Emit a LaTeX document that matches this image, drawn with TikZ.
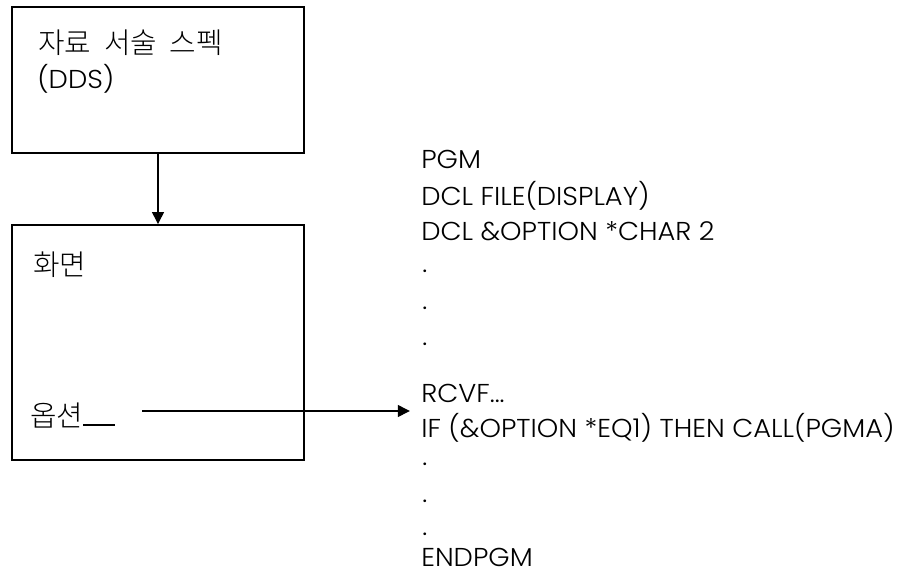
\documentclass[tikz,border=0pt]{standalone}
\usepackage{fontspec}
\setmainfont{Poppins}[UprightFont=* Light, FakeStretch=1.055]
\newfontfamily\kor{Noto Sans CJK KR}[UprightFont=* Light]
\usetikzlibrary{arrows.meta}

\begin{document}
\begin{tikzpicture}[x=0.025cm, y=-0.025cm,
    panel/.style={rectangle, draw, line width=1.3pt, minimum width=7.3cm, inner sep=0pt},
    code/.style={anchor=base west, inner sep=0pt, font=\fontsize{18.4}{22}\selectfont},
    hangul/.style={anchor=base west, inner sep=0pt, font=\kor\fontsize{20.5}{24}\selectfont},
    link/.style={-{Triangle[width=0.3cm,length=0.3cm]}, line width=0.9pt}]
    \useasboundingbox (0,0) rectangle (902,573);

    % boxes on the left
    \node[panel, minimum height=3.65cm] (spec) at (158,80) {};
    \node[panel, minimum height=5.875cm] (screen) at (158,342.5) {};
    \node[hangul] (specname) at (38,53) {자료\ \ 서술\ \ 스펙};
    \node[code] (specabbr) at (37,88) {(DDS)};
    \node[hangul] (screenname) at (33,275) {화면};
    \node[hangul] (optname) at (30,426) {옵션\rule{0.8cm}{0.05cm}};
    \coordinate (optfrom) at (142,411);

    % CL program
    \node[code] (pgm) at (421,168) {PGM};
    \node[code] (dclfile) at (421,205) {DCL FILE(DISPLAY)};
    \node[code] (dclopt) at (421,240) {DCL \&OPTION *CHAR 2};
    \node[code] (rcvf) at (421,402) {RCVF...};
    \node[code] (ifline) at (421,437) {IF (\&OPTION *EQ1) THEN CALL(PGMA)};
    \node[code] (endpgm) at (421,566) {ENDPGM};
    \foreach \y [count=\i] in {272,309,345,465,502,535}
        \node[code] (gap\i) at (422,\y) {.};

    \draw[link] (spec) -- (screen);
    \draw[link, shorten >=0.28cm] (optfrom) -- (optfrom -| ifline.west);
\end{tikzpicture}
\end{document}
